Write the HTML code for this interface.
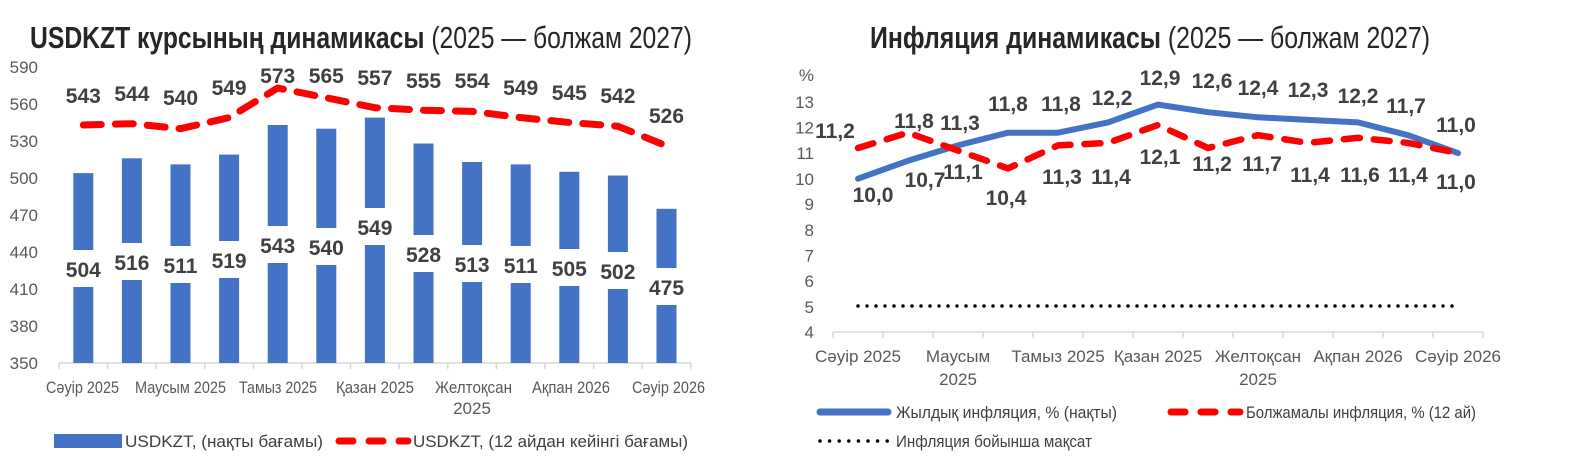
<!DOCTYPE html>
<html><head><meta charset="utf-8"><style>
html,body{margin:0;padding:0;background:#fff;}
svg{display:block;font-family:"Liberation Sans Narrow","Liberation Sans",sans-serif;}
.t{fill:#595959;font-size:17px;}
.v{fill:#404040;font-size:21px;font-weight:bold;text-anchor:middle;}
.lg{fill:#404040;font-size:17px;}
</style></head><body>
<svg width="1570" height="456" viewBox="0 0 1570 456" xmlns="http://www.w3.org/2000/svg">
<text x="30" y="48" font-size="31" fill="#262626" textLength="662" lengthAdjust="spacingAndGlyphs"><tspan font-weight="bold">USDKZT курсының динамикасы</tspan> (2025 — болжам 2027)</text>
<text x="870" y="48" font-size="31" fill="#262626" textLength="560" lengthAdjust="spacingAndGlyphs"><tspan font-weight="bold">Инфляция динамикасы</tspan> (2025 — болжам 2027)</text>

<g class="t" text-anchor="end">
<text x="38" y="73">590</text><text x="38" y="110">560</text><text x="38" y="147">530</text><text x="38" y="184">500</text><text x="38" y="221">470</text><text x="38" y="258">440</text><text x="38" y="295">410</text><text x="38" y="332">380</text><text x="38" y="369">350</text>
</g>
<line x1="59" y1="363" x2="691" y2="363" stroke="#d9d9d9" stroke-width="1.5"/>
<g stroke="#d9d9d9" stroke-width="1.5">
<line x1="59" y1="363" x2="59" y2="369"/><line x1="107.6" y1="363" x2="107.6" y2="369"/><line x1="156.2" y1="363" x2="156.2" y2="369"/><line x1="204.8" y1="363" x2="204.8" y2="369"/><line x1="253.4" y1="363" x2="253.4" y2="369"/><line x1="302" y1="363" x2="302" y2="369"/><line x1="350.6" y1="363" x2="350.6" y2="369"/><line x1="399.2" y1="363" x2="399.2" y2="369"/><line x1="447.8" y1="363" x2="447.8" y2="369"/><line x1="496.4" y1="363" x2="496.4" y2="369"/><line x1="545" y1="363" x2="545" y2="369"/><line x1="593.6" y1="363" x2="593.6" y2="369"/><line x1="642.2" y1="363" x2="642.2" y2="369"/><line x1="690.8" y1="363" x2="690.8" y2="369"/>
</g>
<g fill="#4472c4">
<rect x="73.3" y="173.1" width="20" height="189.9"/>
<rect x="121.9" y="158.3" width="20" height="204.7"/>
<rect x="170.5" y="164.4" width="20" height="198.6"/>
<rect x="219.1" y="154.6" width="20" height="208.4"/>
<rect x="267.7" y="125" width="20" height="238"/>
<rect x="316.3" y="128.7" width="20" height="234.3"/>
<rect x="364.9" y="117.6" width="20" height="245.4"/>
<rect x="413.5" y="143.5" width="20" height="219.5"/>
<rect x="462.1" y="162" width="20" height="201"/>
<rect x="510.7" y="164.4" width="20" height="198.6"/>
<rect x="559.3" y="171.8" width="20" height="191.2"/>
<rect x="607.9" y="175.5" width="20" height="187.5"/>
<rect x="656.5" y="208.8" width="20" height="154.2"/>
</g>
<g fill="#fff">
<rect x="70" y="250" width="27" height="37"/>
<rect x="118" y="243" width="27" height="37"/>
<rect x="167" y="246" width="27" height="37"/>
<rect x="216" y="241" width="27" height="37"/>
<rect x="264" y="226" width="27" height="37"/>
<rect x="313" y="228" width="27" height="37"/>
<rect x="361" y="208" width="27" height="37"/>
<rect x="410" y="235" width="27" height="37"/>
<rect x="459" y="245" width="27" height="37"/>
<rect x="507" y="246" width="27" height="37"/>
<rect x="556" y="249" width="27" height="37"/>
<rect x="604" y="252" width="27" height="37"/>
<rect x="653" y="268" width="27" height="37"/>
</g>
<g class="v">
<text x="83.3" y="277">504</text><text x="131.9" y="270">516</text><text x="180.5" y="273">511</text><text x="229.1" y="268">519</text><text x="277.7" y="253">543</text><text x="326.3" y="255">540</text><text x="374.9" y="235">549</text><text x="423.5" y="262">528</text><text x="472.1" y="272">513</text><text x="520.7" y="273">511</text><text x="569.3" y="276">505</text><text x="617.9" y="279">502</text><text x="666.5" y="295">475</text>
</g>
<polyline points="83.3,125 131.9,123.7 180.5,128.7 229.1,117.6 277.7,88 326.3,97.8 374.9,107.7 423.5,110.2 472.1,111.4 520.7,117.6 569.3,122.5 617.9,126.2 666.5,145.9" fill="none" stroke="#ff0000" stroke-width="7" stroke-linecap="round" stroke-linejoin="round" stroke-dasharray="18 14"/>
<g class="v">
<text x="83.3" y="103">543</text><text x="131.9" y="101">544</text><text x="180.5" y="105">540</text><text x="229.1" y="95">549</text><text x="277.7" y="83">573</text><text x="326.3" y="83">565</text><text x="374.9" y="85">557</text><text x="423.5" y="88">555</text><text x="472.1" y="88">554</text><text x="520.7" y="95">549</text><text x="569.3" y="100">545</text><text x="617.9" y="103">542</text><text x="666.5" y="123">526</text>
</g>
<g class="t" font-size="16" lengthAdjust="spacingAndGlyphs">
<text x="46" y="393" textLength="73" lengthAdjust="spacingAndGlyphs">Сәуір 2025</text>
<text x="135" y="393" textLength="91" lengthAdjust="spacingAndGlyphs">Маусым 2025</text>
<text x="239" y="393" textLength="78" lengthAdjust="spacingAndGlyphs">Тамыз 2025</text>
<text x="336" y="393" textLength="78" lengthAdjust="spacingAndGlyphs">Қазан 2025</text>
<text x="435" y="393" textLength="77" lengthAdjust="spacingAndGlyphs">Желтоқсан</text>
<text x="472" y="414" text-anchor="middle">2025</text>
<text x="532" y="393" textLength="78" lengthAdjust="spacingAndGlyphs">Ақпан 2026</text>
<text x="632" y="393" textLength="73" lengthAdjust="spacingAndGlyphs">Сәуір 2026</text>
</g>
<rect x="54" y="434" width="68" height="14" fill="#4472c4"/>
<text class="lg" x="125" y="447" textLength="198" lengthAdjust="spacingAndGlyphs">USDKZT, (нақты бағамы)</text>
<line x1="339" y1="441" x2="408" y2="441" stroke="#ff0000" stroke-width="7" stroke-linecap="round" stroke-dasharray="14 16"/>
<text class="lg" x="413" y="447" textLength="275" lengthAdjust="spacingAndGlyphs">USDKZT, (12 айдан кейінгі бағамы)</text>

<g class="t" text-anchor="end">
<text x="814" y="81">%</text>
<text x="814" y="108">13</text><text x="814" y="133.5">12</text><text x="814" y="159">11</text><text x="814" y="185">10</text><text x="814" y="210">9</text><text x="814" y="236">8</text><text x="814" y="261.5">7</text><text x="814" y="287">6</text><text x="814" y="313">5</text><text x="814" y="338">4</text>
</g>
<line x1="833" y1="332" x2="1483" y2="332" stroke="#d9d9d9" stroke-width="1.5"/>
<g stroke="#d9d9d9" stroke-width="1.5">
<line x1="833" y1="332" x2="833" y2="338"/><line x1="883" y1="332" x2="883" y2="338"/><line x1="933" y1="332" x2="933" y2="338"/><line x1="983" y1="332" x2="983" y2="338"/><line x1="1033" y1="332" x2="1033" y2="338"/><line x1="1083" y1="332" x2="1083" y2="338"/><line x1="1133" y1="332" x2="1133" y2="338"/><line x1="1183" y1="332" x2="1183" y2="338"/><line x1="1233" y1="332" x2="1233" y2="338"/><line x1="1283" y1="332" x2="1283" y2="338"/><line x1="1333" y1="332" x2="1333" y2="338"/><line x1="1383" y1="332" x2="1383" y2="338"/><line x1="1433" y1="332" x2="1433" y2="338"/><line x1="1483" y1="332" x2="1483" y2="338"/>
</g>
<line x1="858" y1="306" x2="1458" y2="306" stroke="#000" stroke-width="3.5" stroke-linecap="round" stroke-dasharray="0 9"/>
<polyline points="858,178.7 908,160.8 958,145.4 1008,132.7 1058,132.7 1108,122.4 1158,104.6 1208,112.2 1258,117.3 1308,119.9 1358,122.4 1408,135.2 1458,153.1" fill="none" stroke="#4472c4" stroke-width="6" stroke-linecap="round" stroke-linejoin="round"/>
<polyline points="858,148 908,132.7 958,150.6 1008,168.4 1058,145.4 1108,142.9 1158,125 1208,148 1258,135.2 1308,142.9 1358,137.8 1408,142.9 1458,153.1" fill="none" stroke="#ff0000" stroke-width="6.5" stroke-linecap="round" stroke-linejoin="round" stroke-dasharray="16 14"/>
<g class="v" font-size="20">
<text x="835" y="138">11,2</text><text x="914" y="128">11,8</text><text x="960" y="130">11,3</text><text x="1008" y="111">11,8</text><text x="1061" y="111">11,8</text><text x="1112" y="105">12,2</text><text x="1160" y="85">12,9</text><text x="1212" y="88">12,6</text><text x="1258" y="95">12,4</text><text x="1308" y="97">12,3</text><text x="1358" y="103">12,2</text><text x="1406" y="113">11,7</text><text x="1456" y="132">11,0</text>
<text x="873" y="202">10,0</text><text x="925" y="187">10,7</text><text x="963" y="179">11,1</text><text x="1006" y="205">10,4</text><text x="1062" y="184">11,3</text><text x="1111" y="184">11,4</text><text x="1160" y="164">12,1</text><text x="1212" y="171">11,2</text><text x="1262" y="171">11,7</text><text x="1310" y="182">11,4</text><text x="1360" y="182">11,6</text><text x="1408" y="182">11,4</text><text x="1456" y="189">11,0</text>
</g>
<g class="t" text-anchor="middle" font-size="16">
<text x="858" y="362">Сәуір 2025</text><text x="958" y="362">Маусым</text><text x="958" y="385">2025</text><text x="1058" y="362">Тамыз 2025</text><text x="1158" y="362">Қазан 2025</text><text x="1258" y="362">Желтоқсан</text><text x="1258" y="385">2025</text><text x="1358" y="362">Ақпан 2026</text><text x="1458" y="362">Сәуір 2026</text>
</g>
<line x1="820" y1="412" x2="888" y2="412" stroke="#4472c4" stroke-width="7" stroke-linecap="round"/>
<text class="lg" x="896" y="418" textLength="221" lengthAdjust="spacingAndGlyphs">Жылдық инфляция, % (нақты)</text>
<line x1="1171" y1="412" x2="1240" y2="412" stroke="#ff0000" stroke-width="7" stroke-linecap="round" stroke-dasharray="14 16"/>
<text class="lg" x="1246" y="418" textLength="230" lengthAdjust="spacingAndGlyphs">Болжамалы инфляция, % (12 ай)</text>
<line x1="820" y1="441" x2="888" y2="441" stroke="#000" stroke-width="3.5" stroke-linecap="round" stroke-dasharray="0 9.6"/>
<text class="lg" x="896" y="447" textLength="196" lengthAdjust="spacingAndGlyphs">Инфляция бойынша мақсат</text>
</svg>
</body></html>
